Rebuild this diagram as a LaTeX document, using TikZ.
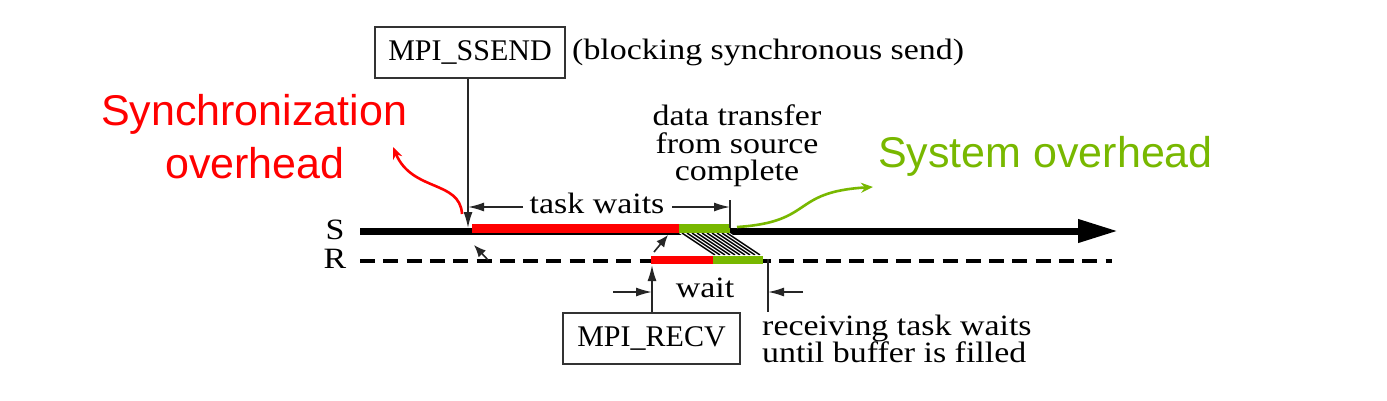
\documentclass[tikz,border=0pt]{standalone}
\usepackage{fontspec}
\setmainfont[FakeStretch=1.15]{Liberation Serif}
\newfontfamily\boxfont{Liberation Serif}
\newfontfamily\sansf{Liberation Sans}
\usetikzlibrary{arrows.meta}
\definecolor{ovred}{RGB}{255,0,0}
\definecolor{ovgreen}{RGB}{120,184,0}
\tikzset{
  ser/.style={font=\fontsize{29.5}{30}\selectfont, inner sep=0pt},
  labelbox/.style={draw=black!80, line width=1.4pt, font=\boxfont\fontsize{30}{32}\selectfont, inner sep=0pt},
  thinline/.style={draw=black!85, line width=1.6pt},
  dimarrow/.style={thinline, -{Latex[length=16pt,width=9pt]}},
  big/.style={font=\sansf\fontsize{43}{45}\selectfont, inner sep=0pt},
  curvy/.style={line width=2.6pt, -{Stealth[length=12pt,width=10pt]}},
}
\begin{document}
\begin{tikzpicture}[x=1pt,y=-1pt]
\useasboundingbox (0,0) rectangle (1387,400);
\fill[white] (0,0) rectangle (1387,400);

% ---- named points
\coordinate (sstart) at (360,231);
\coordinate (send) at (1118,231);
\coordinate (rstart) at (360,261);
\coordinate (rend) at (1112,261);
\coordinate (wstart) at (468,228);
\coordinate (tdone) at (730,228);
\coordinate (tdtop) at (730,200);
\coordinate (twl) at (523,207);
\coordinate (twr) at (672,207);
\coordinate (rwait) at (652,265);
\coordinate (rfill) at (768,259);
\coordinate (wl) at (613,292);
\coordinate (wr) at (803,292);

% ---- labels S / R
\node[ser, anchor=base] (S) at (335,239) {S};
\node[ser, anchor=base] (R) at (335,268) {R};

% ---- time lines
\draw[line width=7pt, -{Triangle[length=40pt,width=22pt]}] (sstart) -- (send);
\draw[line width=4pt, dash pattern=on 15pt off 8.3pt] (rstart) -- (rend);

% ---- bars on S
\fill[ovred] (472,224) rectangle (679,233);
\fill[ovgreen] (679,224) rectangle (730,233);
% hatched transfer
\fill[white] (679,233) -- (730,233) -- (763,255) -- (712,255) -- cycle;
\begin{scope}
  \clip (679,233) -- (730,233) -- (763,255) -- (712,255) -- cycle;
  \foreach \k in {0,...,12} {
    \draw[line width=1.5pt] ({672+\k*5},233) -- ({705+\k*5},255);
  }
\end{scope}
% bars on R
\fill[ovred] (651,256) rectangle (713,264);
\fill[ovgreen] (713,256) rectangle (763,264);

% ---- small arrows between lines
\coordinate (sa1) at (488,260);
\coordinate (sa1t) at (474,245);
\coordinate (sa2) at (654,252);
\coordinate (sa2t) at (668,235);
\draw[thinline, -{Latex[length=12pt,width=10pt]}] (sa1) -- (sa1t);
\draw[thinline, -{Latex[length=12pt,width=10pt]}] (sa2) -- (sa2t);

% ---- MPI_SSEND
\node[labelbox, minimum width=190pt, minimum height=51pt] (ssend) at (470,52.5) {MPI\_SSEND};
\node[ser, anchor=base west] (blk) at (572,59) {(blocking synchronous send)};
\draw[dimarrow] (ssend.south -| wstart) -- (wstart);

% ---- task waits
\node[ser, anchor=base] (tw) at (597,213) {task waits};
\draw[dimarrow] (twl) -- (wstart |- twl);
\draw[dimarrow] (twr) -- (tdtop |- twr);
\draw[thinline] (tdtop) -- (tdone);

% ---- data transfer complete
\node[ser, anchor=base] (dt1) at (737,125) {data transfer};
\node[ser, anchor=base] (dt2) at (737,153) {from source};
\node[ser, anchor=base] (dt3) at (737,180) {complete};

% ---- MPI_RECV
\node[labelbox, minimum width=177pt, minimum height=51pt] (recv) at (651.5,338.5) {MPI\_RECV};
\draw[dimarrow] (recv.north -| rwait) -- (rwait);
\draw[thinline] (rfill) -- (rfill |- recv.north);
\node[ser, anchor=base] (wt) at (705,297) {wait};
\draw[dimarrow] (wl) -- (rwait |- wl);
\draw[dimarrow] (wr) -- (rfill |- wr);
\node[ser, anchor=base west] (rc1) at (762,335) {receiving task waits};
\node[ser, anchor=base west] (rc2) at (762,362) {until buffer is filled};

% ---- overhead annotations
\node[big, text=ovred, anchor=base] (sync1) at (254,125) {Synchronization};
\node[big, text=ovred, anchor=base] (sync2) at (255,178) {overhead};
\coordinate (syncfrom) at (462,214);
\coordinate (syncto) at (393,147);
\draw[curvy, ovred] (syncfrom) .. controls (460,180) and (412,192) .. (syncto);

\node[big, text=ovgreen, anchor=base west] (sys) at (878,167) {System overhead};
\coordinate (sysfrom) at (737,227);
\coordinate (systo) at (873,187);
\draw[curvy, ovgreen] (sysfrom) .. controls (815,222) and (790,192) .. (systo);
\end{tikzpicture}
\end{document}
